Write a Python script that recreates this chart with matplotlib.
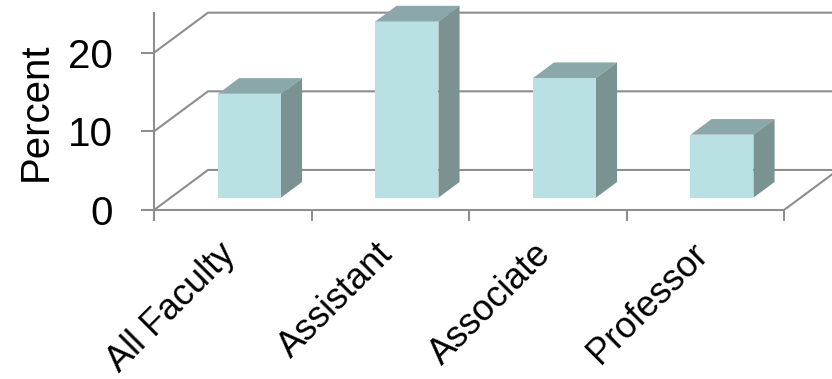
import numpy as np
import matplotlib
matplotlib.use("Agg")
import matplotlib.pyplot as plt
from matplotlib.patches import Polygon

# data
categories = ["All Faculty", "Assistant", "Associate", "Professor"]
percent = [13.2, 22.4, 15.2, 8.0]
gridvals = [0, 10, 20]

plt.rcParams['font.family'] = ['Liberation Sans', 'DejaVu Sans']

front_col = '#b9e0e2'
top_col = '#8aa8aa'
side_col = '#7a9292'
grid_col = '#8e8e8e'

# oblique "3d" offsets (category units / value units per full depth)
ddx = 0.343
ddy = 5.09
d0, d1 = 0.31, 0.70
bw = 0.40

fig = plt.figure(figsize=(8.32, 3.79), dpi=100)
ax = fig.add_axes([154/832, 169/379, 678/832, 210/379])
ax.set_xlim(0, 678/157.5)
ax.set_ylim(0, 210/7.865)

# back wall gridlines + floor
for g in gridvals:
    ax.plot([0, ddx, 10], [g, g + ddy, g + ddy], color=grid_col, lw=1.5,
            solid_capstyle='butt', zorder=1)
ax.plot([len(categories), len(categories) + ddx], [0, ddy], color=grid_col,
        lw=1.5, zorder=1)

# bars
dd = d1 - d0
for i, v in enumerate(percent):
    x0 = i + 0.5 - bw/2 + d0*ddx
    b = d0*ddy
    front = Polygon([(x0, b), (x0 + bw, b), (x0 + bw, b + v), (x0, b + v)],
                    closed=True, fc=front_col, ec='none', zorder=3)
    top = Polygon([(x0, b + v), (x0 + bw, b + v),
                   (x0 + bw + dd*ddx, b + v + dd*ddy), (x0 + dd*ddx, b + v + dd*ddy)],
                  closed=True, fc=top_col, ec='none', zorder=3)
    side = Polygon([(x0 + bw, b), (x0 + bw, b + v),
                    (x0 + bw + dd*ddx, b + v + dd*ddy), (x0 + bw + dd*ddx, b + dd*ddy)],
                   closed=True, fc=side_col, ec='none', zorder=3)
    for p in (front, top, side):
        ax.add_patch(p)

# axes
for s in ['top', 'right']:
    ax.spines[s].set_visible(False)
for s in ['left', 'bottom']:
    ax.spines[s].set_color(grid_col)
    ax.spines[s].set_linewidth(1.5)
ax.spines['left'].set_bounds(0, 25)
ax.spines['bottom'].set_bounds(0, len(categories))

ax.set_yticks(gridvals)
ax.set_yticklabels([str(g) for g in gridvals])
ax.tick_params(axis='y', length=9.4, width=1.5, color=grid_col, pad=20,
               labelsize=29)

ax.set_xticks(np.arange(len(categories) + 1))
ax.set_xticklabels([])
ax.tick_params(axis='x', length=8, width=1.5, color=grid_col)

# category labels, rotated
for i, c in enumerate(categories):
    ax.annotate(c, xy=(i + 0.5, 0), xycoords='data', xytext=(3, -33),
                textcoords='offset points', rotation=45, ha='right',
                va='baseline', rotation_mode='anchor', fontsize=26,
                annotation_clip=False)

fig.text(35.5/832, 1 - 112/379, "Percent", rotation=90, ha='center',
         va='center', fontsize=29)

fig.savefig("out.png", dpi=100)
